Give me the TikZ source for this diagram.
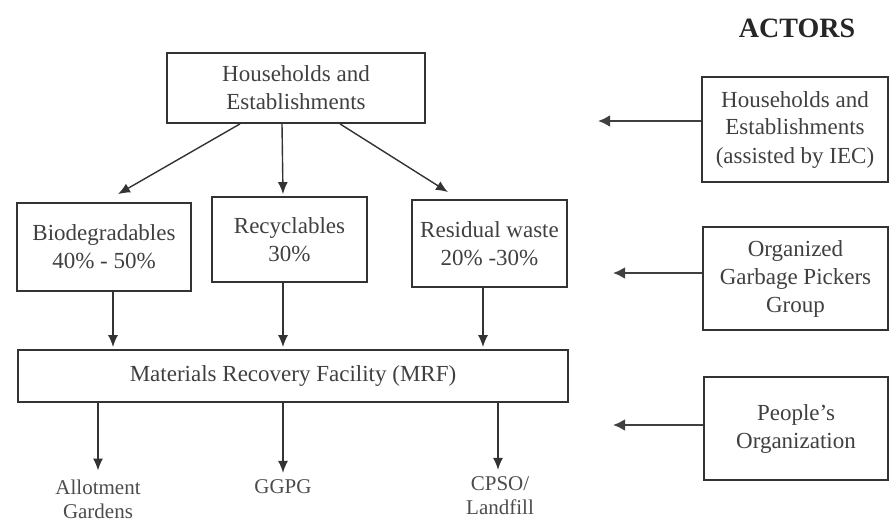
\documentclass[tikz,border=0pt]{standalone}
\usepackage{fontspec}
\setmainfont{Liberation Serif}
\usetikzlibrary{arrows.meta,calc}

\begin{document}
\begin{tikzpicture}[
x=0.5pt, y=-0.5pt,
box/.style={rectangle, draw=black!80, line width=0.9pt, align=center, text=black!75, font=\fontsize{11.5}{14}\selectfont, inner sep=2pt},
arrow/.style={-{Latex[length=6pt,width=5pt]}, line width=0.7pt, draw=black!80},
actarrow/.style={-{Latex[length=6pt,width=6pt]}, line width=1.3pt, draw=black!75},
outcome/.style={align=center, text=black!70, font=\fontsize{10.5}{12}\selectfont}
]
\useasboundingbox (0,0) rectangle (890,525);
\node[box, minimum width=129pt, minimum height=35pt] (he) at (296,88) {Households and\\Establishments};
\node[box, minimum width=87pt, minimum height=44pt] (bio) at (104,247) {Biodegradables\\40\% - 50\%};
\node[box, minimum width=77.5pt, minimum height=42.5pt] (rec) at (289.5,239.5) {Recyclables\\30\%};
\node[box, minimum width=77.5pt, minimum height=43.5pt] (res) at (489.5,243.5) {Residual waste\\20\% -30\%};
\node[box, minimum width=275pt, minimum height=26pt] (mrf) at (293,376) {Materials Recovery Facility (MRF)};
\node[outcome] (allot) at (98,499) {Allotment\\Gardens};
\node[outcome] (ggpg) at (283,487) {GGPG};
\node[outcome] (cpso) at (500,496) {CPSO/\\Landfill};
% actors column
\node[font=\bfseries\fontsize{14}{16}\selectfont, text=black!85] (actors) at (797,28) {ACTORS};
\node[box, minimum width=93pt, minimum height=52.5pt] (act1) at (795,129.5) {Households and\\Establishments\\(assisted by IEC)};
\node[box, minimum width=92.5pt, minimum height=51.5pt] (act2) at (795.5,278.5) {Organized\\Garbage Pickers\\Group};
\node[box, minimum width=92pt, minimum height=51.5pt] (act3) at (796,428.5) {People's\\Organization};
\coordinate (t1) at (598,121);
\coordinate (t2) at (613,273);
\coordinate (t3) at (613,425);
\draw[arrow] ($(he.south)+(-56,0)$) -- ($(bio.north)+(14,-8)$);
\draw[arrow] ($(he.south)+(-14,0)$) -- ($(rec.north)+(-6.5,-2)$);
\draw[arrow] ($(he.south)+(44,0)$) -- ($(res.north)+(-41.5,-7)$);
\draw[arrow] ($(bio.south)+(9,0)$) -- ($(mrf.north)+(-180,-2)$);
\draw[arrow] ($(rec.south)+(-6.5,0)$) -- ($(mrf.north)+(-10,-2)$);
\draw[arrow] ($(res.south)+(-6.5,0)$) -- ($(mrf.north)+(190,-2)$);
\draw[arrow] ($(mrf.south)+(-195,0)$) -- ($(allot.north)+(0,-2)$);
\draw[arrow] ($(mrf.south)+(-10,0)$) -- (ggpg.north);
\draw[arrow] ($(mrf.south)+(205,0)$) -- ($(cpso.north)+(-2,0)$);
\draw[actarrow] (act1.west |- t1) -- (t1);
\draw[actarrow] (act2.west |- t2) -- (t2);
\draw[actarrow] (act3.west |- t3) -- (t3);
\end{tikzpicture}
\end{document}
